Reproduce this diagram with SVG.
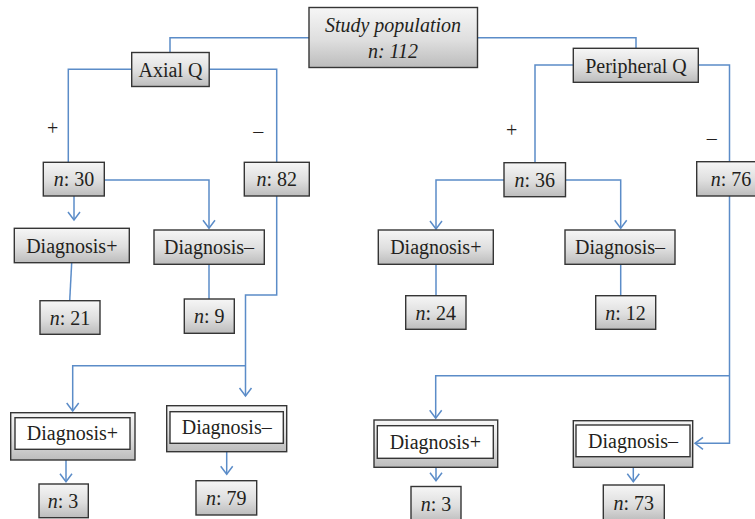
<svg xmlns="http://www.w3.org/2000/svg" width="755" height="519" viewBox="0 0 755 519">
<style>
.box{fill:url(#g);stroke:#353535;stroke-width:1.4}
.inner{fill:#ffffff;stroke:#353535;stroke-width:1.4}
.t{font-family:"Liberation Serif","Times New Roman",serif;font-size:20px;fill:#231f20;text-anchor:middle}
.i{font-style:italic}
.c{fill:none;stroke:#5b8cc8;stroke-width:1.5}
.a{marker-end:url(#arr)}
</style>
<defs>
<linearGradient id="g" x1="0" y1="0" x2="0" y2="1">
<stop offset="0" stop-color="#f6f6f6"/>
<stop offset="0.55" stop-color="#dedede"/>
<stop offset="1" stop-color="#bcbcbc"/>
</linearGradient>
<marker id="arr" markerUnits="userSpaceOnUse" markerWidth="20" markerHeight="20" refX="0" refY="0" viewBox="-10 -10 20 20" orient="auto" overflow="visible">
<path d="M-8,-6 L0,0 L-8,6" fill="none" stroke="#5b8cc8" stroke-width="1.5"/>
</marker>
</defs>
<rect width="755" height="519" fill="#ffffff"/>

<g id="connectors">
<path class="c" d="M309,37.7 H170 V52.5"/>
<path class="c" d="M477.7,37.7 H636 V48.3"/>
<path class="c" d="M131.7,69.3 H68.3 V162.3"/>
<path class="c" d="M209.3,69.3 H276.7 V162.3"/>
<path class="c" d="M573.3,65 H535 V162.7"/>
<path class="c" d="M698.3,65 H729.5 V161.7"/>
<path class="c a" d="M74,196 V220"/>
<path class="c a" d="M104.3,180 H209 V228.3"/>
<path class="c" d="M71.7,262.7 L69.7,300.7"/>
<path class="c" d="M209,264.3 V299"/>
<path class="c a" d="M276.7,196 V295 H245.5 V396"/>
<path class="c a" d="M245.5,365.7 H72.7 V411"/>
<path class="c a" d="M66,460 V481.7"/>
<path class="c a" d="M226.7,451.7 V474.3"/>
<path class="c a" d="M504,180 H436 V229"/>
<path class="c a" d="M565,180 H620.7 V228.3"/>
<path class="c" d="M436,264.3 V295.7"/>
<path class="c" d="M620.7,264.3 V295.7"/>
<path class="c a" d="M729.5,196 V443.3 H695"/>
<path class="c a" d="M729.5,375.7 H435.7 V418.3"/>
<path class="c a" d="M436,467.3 V480.7"/>
<path class="c a" d="M633.3,467.3 V481.7"/>
<text class="t" x="52.7" y="135">+</text>
<text class="t" x="258.3" y="138">–</text>
<text class="t" x="511.7" y="137">+</text>
<text class="t" x="711.7" y="145">–</text>
</g>

<g id="study"><rect class="box" x="309" y="7.5" width="168.5" height="60"/>
<text class="t i" x="393" y="31.5">Study population</text>
<text class="t i" x="393" y="57.5">n: 112</text></g>

<g id="axial"><rect class="box" x="131.7" y="52.5" width="77.5" height="34"/>
<text class="t" x="170.5" y="76.5">Axial Q</text></g>

<g id="peripheral"><rect class="box" x="573.3" y="48.3" width="125" height="34"/>
<text class="t" x="636" y="72.5">Peripheral Q</text></g>

<g id="n30"><rect class="box" x="43.3" y="162.3" width="61" height="33.7"/>
<text class="t" x="74" y="186"><tspan class="i">n</tspan>: 30</text></g>

<g id="n82"><rect class="box" x="244.3" y="162.3" width="65" height="33.7"/>
<text class="t" x="276.8" y="186"><tspan class="i">n</tspan>: 82</text></g>

<g id="n36"><rect class="box" x="504" y="162.7" width="61.5" height="34"/>
<text class="t" x="534.7" y="186.5"><tspan class="i">n</tspan>: 36</text></g>

<g id="n76"><rect class="box" x="696.7" y="161.7" width="66" height="34.3"/>
<text class="t" x="731" y="186"><tspan class="i">n</tspan>: 76</text></g>

<g id="diagPosL"><rect class="box" x="14.3" y="228.3" width="115" height="34.4"/>
<text class="t" x="71.8" y="252.5">Diagnosis+</text></g>

<g id="diagNegL"><rect class="box" x="154" y="230" width="110.3" height="34.3"/>
<text class="t" x="209.1" y="254">Diagnosis–</text></g>

<g id="n21"><rect class="box" x="40" y="300.7" width="60" height="33.6"/>
<text class="t" x="70" y="324.5"><tspan class="i">n</tspan>: 21</text></g>

<g id="n9"><rect class="box" x="184.3" y="299" width="50" height="34.3"/>
<text class="t" x="209.3" y="323"><tspan class="i">n</tspan>: 9</text></g>

<g id="diagPosR"><rect class="box" x="378.3" y="230" width="115" height="34.3"/>
<text class="t" x="435.8" y="254">Diagnosis+</text></g>

<g id="diagNegR"><rect class="box" x="565" y="230" width="110" height="34.3"/>
<text class="t" x="620" y="254">Diagnosis–</text></g>

<g id="n24"><rect class="box" x="405.7" y="295.7" width="60.3" height="33.6"/>
<text class="t" x="435.8" y="319.5"><tspan class="i">n</tspan>: 24</text></g>

<g id="n12"><rect class="box" x="595.7" y="295.7" width="60" height="33.6"/>
<text class="t" x="625.5" y="319.5"><tspan class="i">n</tspan>: 12</text></g>

<g id="dPosL"><rect class="box" x="10.7" y="412.7" width="124.3" height="47.3"/>
<rect class="inner" x="15" y="417.7" width="115" height="31.6"/>
<text class="t" x="72.5" y="440">Diagnosis+</text></g>

<g id="dNegL"><rect class="box" x="166.7" y="405.7" width="120" height="46"/>
<rect class="inner" x="170" y="411.7" width="113.3" height="31.6"/>
<text class="t" x="226.7" y="434">Diagnosis–</text></g>

<g id="n3L"><rect class="box" x="39" y="484" width="49.3" height="33.7"/>
<text class="t" x="63" y="508"><tspan class="i">n</tspan>: 3</text></g>

<g id="n79"><rect class="box" x="196" y="480.7" width="60.7" height="34.3"/>
<text class="t" x="226.3" y="504.5"><tspan class="i">n</tspan>: 79</text></g>

<g id="dPosR"><rect class="box" x="374" y="420" width="123.7" height="47.3"/>
<rect class="inner" x="377.3" y="425.7" width="116" height="32.6"/>
<text class="t" x="435.3" y="448.5">Diagnosis+</text></g>

<g id="dNegR"><rect class="box" x="573.3" y="420.7" width="119.4" height="46.6"/>
<rect class="inner" x="576" y="425" width="114" height="31.7"/>
<text class="t" x="633" y="448">Diagnosis–</text></g>

<g id="n3R"><rect class="box" x="411" y="486.5" width="50" height="36"/>
<text class="t" x="436" y="510.5"><tspan class="i">n</tspan>: 3</text></g>

<g id="n73"><rect class="box" x="603.3" y="485" width="61" height="36"/>
<text class="t" x="633.8" y="509.5"><tspan class="i">n</tspan>: 73</text></g>
</svg>
